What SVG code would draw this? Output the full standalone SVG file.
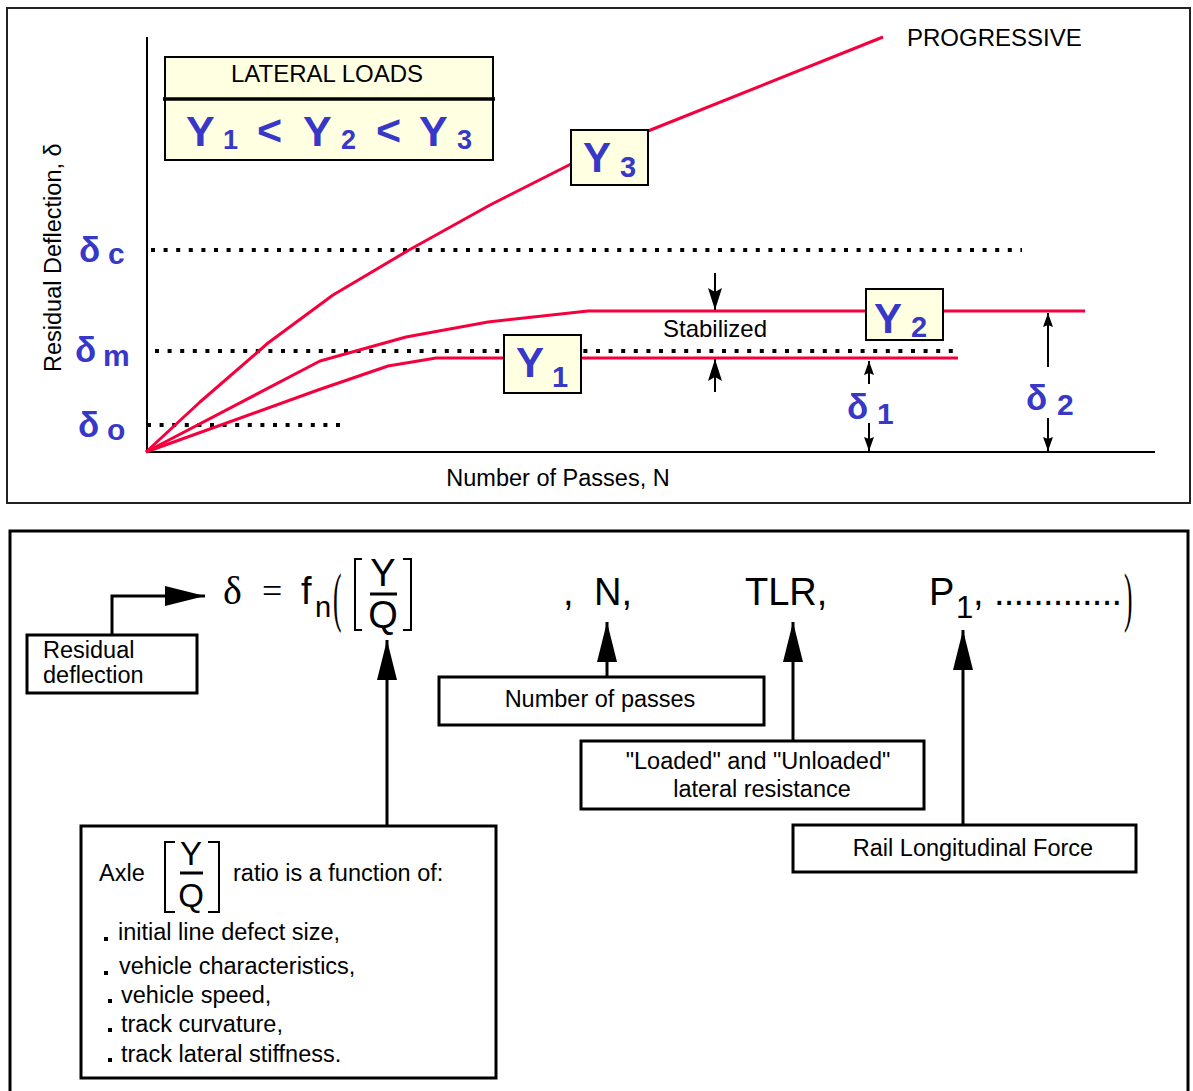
<svg xmlns="http://www.w3.org/2000/svg" width="1193" height="1091" viewBox="0 0 1193 1091">
<defs>
<style>
text{font-family:"Liberation Sans",Arial,sans-serif;fill:#000}
.lbl{font-size:24px}
.bl{font-size:23.5px}
.blue{fill:#3838c8;font-weight:bold}
.ybig{font-size:43px}
.ysub{font-size:27px}
.bd{font-size:35px}
.bs{font-size:30px}
.yb{font-size:42px}
.ys{font-size:29px}
.eq{font-size:38px}
.serif{font-family:"Liberation Serif","Times New Roman",serif}
.red{fill:none;stroke:#f5003d;stroke-width:3;stroke-linejoin:round}
.dots{fill:none;stroke:#000;stroke-width:4;stroke-dasharray:4 8.6}
.box{fill:#ffffe1;stroke:#000;stroke-width:2}
.wbox{fill:#fff;stroke:#000;stroke-width:3}
.conn{fill:none;stroke:#000;stroke-width:3}
.thin{fill:none;stroke:#000;stroke-width:2}
.brk{fill:none;stroke:#000;stroke-width:2}
</style>
<marker id="big" viewBox="0 0 40 20" refX="40" refY="10" markerWidth="40" markerHeight="20" markerUnits="userSpaceOnUse" orient="auto"><path d="M0,0 L40,10 L0,20 z" fill="#000"/></marker>
<marker id="mid" viewBox="0 0 22 14" refX="22" refY="7" markerWidth="22" markerHeight="14" markerUnits="userSpaceOnUse" orient="auto"><path d="M0,0 L22,7 L0,14 L4,7 z" fill="#000"/></marker>
<marker id="sm" viewBox="0 0 14 10" refX="14" refY="5" markerWidth="14" markerHeight="10" markerUnits="userSpaceOnUse" orient="auto"><path d="M0,0 L14,5 L0,10 L2,5 z" fill="#000"/></marker>
</defs>
<rect width="1193" height="1091" fill="#fff"/>

<!-- Top chart -->
<g id="chart">
<rect x="7" y="8" width="1183" height="495" fill="none" stroke="#222" stroke-width="2"/>
<line x1="147" y1="37" x2="147" y2="452" class="thin"/>
<line x1="147" y1="452" x2="1155" y2="452" class="thin"/>
<text class="lbl" style="font-size:23.5px" transform="translate(61,372) rotate(-90)">Residual Deflection, δ</text>
<text class="lbl" style="font-size:23.5px" x="558" y="486" text-anchor="middle">Number of Passes, N</text>
<line x1="151" y1="250" x2="1022" y2="250" class="dots"/>
<line x1="155" y1="351" x2="960" y2="351" class="dots"/>
<line x1="147" y1="425" x2="342" y2="425" class="dots"/>
</g>

<g id="delta-labels">
<text class="blue bd" x="79" y="262">δ</text><text class="blue bs" x="108" y="264">c</text>
<text class="blue bd" x="75" y="362">δ</text><text class="blue bs" x="103" y="366">m</text>
<text class="blue bd" x="78" y="437">δ</text><text class="blue bs" x="107" y="440">o</text>
<text class="blue bd" x="847" y="419">δ</text><text class="blue bs" x="877" y="424">1</text>
<text class="blue bd" x="1026" y="410">δ</text><text class="blue bs" x="1057" y="415">2</text>
</g>

<g id="curves">
<polyline class="red" points="146,452 200,402 268,343 333,295 409,250 490,205 571,164"/>
<polyline class="red" points="648,131 883,37"/>
<polyline class="red" points="146,452 320,361 406,337 488,322 588,311 866,311"/>
<polyline class="red" points="943,311 1085,311"/>
<polyline class="red" points="146,452 318,390 388,366 436,358 504,358"/>
<polyline class="red" points="581,358 958,358"/>
</g>

<g id="legend">
<rect class="box" x="165" y="57" width="328" height="103"/>
<line x1="163" y1="99" x2="495" y2="99" stroke="#000" stroke-width="3.5"/>
<text class="lbl" x="327" y="82" text-anchor="middle">LATERAL LOADS</text>
<text class="blue ybig" x="186" y="146">Y</text><text class="blue ysub" x="223" y="149">1</text>
<text class="blue ybig" x="257" y="145">&lt;</text>
<text class="blue ybig" x="303" y="146">Y</text><text class="blue ysub" x="341" y="149">2</text>
<text class="blue ybig" x="376" y="145">&lt;</text>
<text class="blue ybig" x="419" y="146">Y</text><text class="blue ysub" x="457" y="149">3</text>
</g>

<g id="y3">
<rect class="box" x="571" y="130" width="77" height="55"/>
<text class="blue yb" x="583" y="172">Y</text><text class="blue ys" x="620" y="177">3</text>
</g>
<g id="y2">
<rect class="box" x="866" y="289" width="77" height="51"/>
<text class="blue yb" x="874" y="333">Y</text><text class="blue ys" x="911" y="337">2</text>
</g>
<g id="y1">
<rect class="box" x="504" y="335" width="77" height="58"/>
<text class="blue yb" x="516" y="377">Y</text><text class="blue ys" x="552" y="387">1</text>
</g>

<text id="progressive" class="lbl" x="907" y="46">PROGRESSIVE</text>
<text id="stabilized" class="lbl" x="715" y="337" text-anchor="middle">Stabilized</text>

<g id="chart-arrows">
<line class="thin" x1="715" y1="273" x2="715" y2="310" marker-end="url(#mid)"/>
<line class="thin" x1="715" y1="392" x2="715" y2="359" marker-end="url(#mid)"/>
<line class="thin" x1="869" y1="384" x2="869" y2="361" marker-end="url(#sm)"/>
<line class="thin" x1="869" y1="423" x2="869" y2="451" marker-end="url(#sm)"/>
<line class="thin" x1="1048" y1="367" x2="1048" y2="313" marker-end="url(#sm)"/>
<line class="thin" x1="1048" y1="418" x2="1048" y2="451" marker-end="url(#sm)"/>
</g>

<!-- Bottom panel -->
<rect x="10" y="531" width="1178" height="580" fill="none" stroke="#000" stroke-width="3"/>

<g id="formula">
<text class="serif" style="font-size:40px" x="223" y="604">δ</text>
<text class="serif" style="font-size:36px" x="262" y="603">=</text>
<text class="eq" x="301" y="604">f</text><text style="font-size:29px" x="315" y="617">n</text>
<text class="serif" style="font-size:34px" transform="translate(333,619) scale(0.75,1.95)">(</text>
<polyline class="brk" points="362,559 355,559 355,630 362,630"/>
<polyline class="brk" points="403,559 411,559 411,630 403,630"/>
<text class="eq" x="383" y="586" text-anchor="middle">Y</text>
<line x1="370" y1="594" x2="397" y2="594" stroke="#000" stroke-width="3"/>
<text class="eq" x="383" y="628" text-anchor="middle">Q</text>
<text class="eq" x="563" y="605">,</text>
<text class="eq" x="594" y="605">N,</text>
<text class="eq" x="745" y="605">TLR,</text>
<text class="eq" x="929" y="605">P</text><text style="font-size:31px" x="956" y="618">1</text>
<text class="eq" x="973" y="605">,</text>
<text class="eq" x="994" y="605" textLength="128" lengthAdjust="spacing">.............</text>
<text class="serif" style="font-size:34px" transform="translate(1124,619) scale(0.75,1.95)">)</text>
</g>

<g id="connectors">
<polyline class="conn" points="112,636 112,596 205,596" marker-end="url(#big)"/>
<line class="conn" x1="387" y1="826" x2="387" y2="640" marker-end="url(#big)"/>
<line class="conn" x1="607" y1="677" x2="607" y2="622" marker-end="url(#big)"/>
<line class="conn" x1="793" y1="741" x2="793" y2="622" marker-end="url(#big)"/>
<line class="conn" x1="963" y1="825" x2="963" y2="630" marker-end="url(#big)"/>
</g>

<g id="residual-deflection">
<rect class="wbox" x="27" y="635" width="170" height="58"/>
<text class="bl" x="43" y="658">Residual</text>
<text class="bl" x="43" y="683">deflection</text>
</g>
<g id="number-of-passes">
<rect class="wbox" x="439" y="677" width="325" height="48"/>
<text class="bl" x="600" y="707" text-anchor="middle">Number of passes</text>
</g>
<g id="lateral-resistance">
<rect class="wbox" x="581" y="741" width="343" height="68"/>
<text class="bl" x="758" y="769" text-anchor="middle">"Loaded" and "Unloaded"</text>
<text class="bl" x="762" y="797" text-anchor="middle">lateral resistance</text>
</g>
<g id="rail-force">
<rect class="wbox" x="793" y="825" width="343" height="47"/>
<text class="bl" x="973" y="856" text-anchor="middle">Rail Longitudinal Force</text>
</g>
<g id="axle-ratio">
<rect class="wbox" x="81" y="826" width="415" height="252"/>
<text class="bl" x="99" y="881">Axle</text>
<polyline class="brk" points="175,842 165,842 165,912 175,912"/>
<polyline class="brk" points="208,842 219,842 219,912 208,912"/>
<text class="eq" style="font-size:33px" x="191" y="865" text-anchor="middle">Y</text>
<line x1="180" y1="873" x2="203" y2="873" stroke="#000" stroke-width="3"/>
<text class="eq" style="font-size:33px" x="191" y="907" text-anchor="middle">Q</text>
<text class="bl" x="233" y="881">ratio is a function of:</text>
<g fill="#000">
<rect x="104" y="937" width="4" height="4"/>
<rect x="104" y="971" width="4" height="4"/>
<rect x="108" y="999" width="4" height="4"/>
<rect x="108" y="1028" width="4" height="4"/>
<rect x="108" y="1058" width="4" height="4"/>
</g>
<text class="bl" x="118" y="940">initial line defect size,</text>
<text class="bl" x="119" y="974">vehicle characteristics,</text>
<text class="bl" x="121" y="1003">vehicle speed,</text>
<text class="bl" x="121" y="1032">track curvature,</text>
<text class="bl" x="121" y="1062">track lateral stiffness.</text>
</g>
</svg>
